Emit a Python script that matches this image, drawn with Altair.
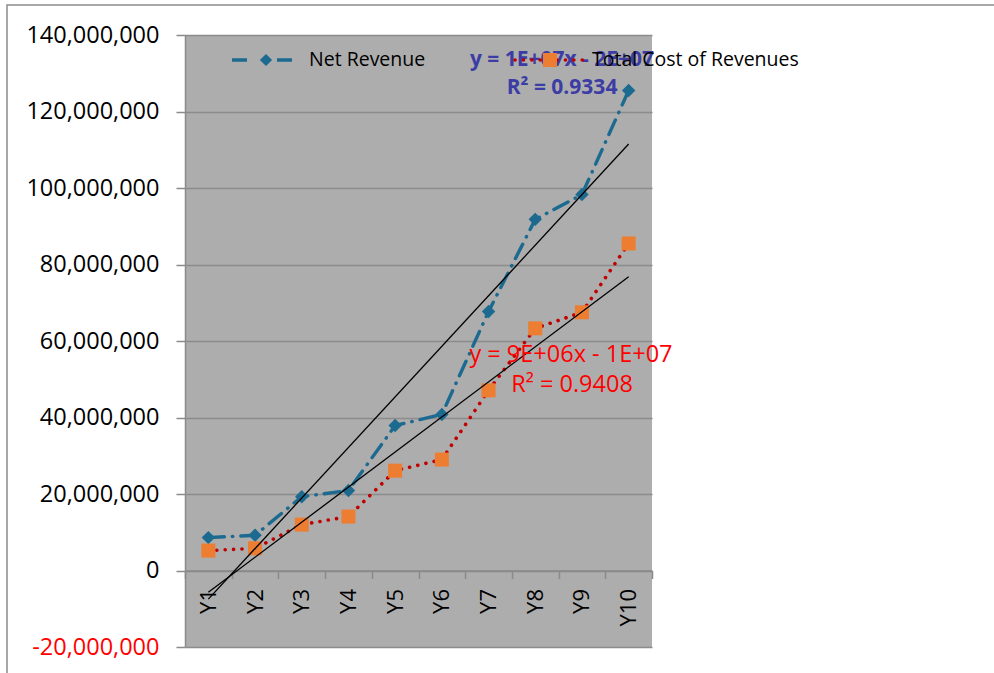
import altair as alt
import numpy as np
import pandas as pd

# ---- data ----
years = ["Y1", "Y2", "Y3", "Y4", "Y5", "Y6", "Y7", "Y8", "Y9", "Y10"]
net_revenue = [8.6e6, 9.2e6, 19.3e6, 20.9e6, 37.9e6, 40.8e6, 67.7e6, 91.8e6, 98.3e6, 125.5e6]
cost_of_revenues = [5.2e6, 5.8e6, 12.0e6, 14.1e6, 26.1e6, 29.0e6, 47.1e6, 63.3e6, 67.5e6, 85.5e6]
y_ticks = [-20e6, 0, 20e6, 40e6, 60e6, 80e6, 100e6, 120e6, 140e6]

series_names = ["Net Revenue", "Total Cost of Revenues"]
trend_text_net = ["y = 1E+07x - 2E+07", "R\u00b2 = 0.9334"]
trend_text_cost = ["y = 9E+06x - 1E+07", "R\u00b2 = 0.9408"]

FONT = "Open Sans"
BLUE = "#1c6a8f"
ORANGE = "#ed7d31"
DOTRED = "#c00000"

df_net = pd.DataFrame({"year": years, "value": net_revenue})
df_cost = pd.DataFrame({"year": years, "value": cost_of_revenues})

# linear trend lines (fit on category index 1..10)
idx = np.arange(1, len(years) + 1)
def trend(vals):
    m, b = np.polyfit(idx, np.array(vals), 1)
    return pd.DataFrame({"year": [years[0], years[-1]],
                         "value": [m * idx[0] + b, m * idx[-1] + b]})
df_tr_net = trend(net_revenue)
df_tr_cost = trend(cost_of_revenues)

one = pd.DataFrame({"k": [0]})

xenc = alt.X("year:N", sort=years, bandPosition=0.5,
             scale=alt.Scale(type="band", paddingInner=0, paddingOuter=0, domain=years),
             axis=alt.Axis(title=None, labelAngle=270, offset=-76.5, tickBand="extent",
                           tickSize=8, tickColor="#8a8a8a", tickWidth=1.5,
                           domainColor="#8a8a8a", domainWidth=1.5,
                           labelFont=FONT, labelFontSize=22, labelColor="#000000",
                           labelPadding=10, labelBaseline="middle", grid=False))
yenc = alt.Y("value:Q",
             scale=alt.Scale(domain=[-20e6, 140e6], nice=False, zero=False),
             axis=alt.Axis(title=None, values=y_ticks,
                           labelExpr="(datum.value < 0 ? '-' : '') + format(abs(datum.value), ',')",
                           labelColor={"expr": "datum.value < 0 ? '#ff0000' : '#000000'"},
                           labelFont=FONT, labelFontSize=23.5, labelPadding=17,
                           tickSize=9, tickColor="#8a8a8a", tickWidth=1.5,
                           domainColor="#8a8a8a", domainWidth=1.5,
                           grid=True, gridColor="#8c8c8c", gridWidth=1.5))

base_net = alt.Chart(df_net)
base_cost = alt.Chart(df_cost)

net_line = base_net.mark_line(color=BLUE, strokeWidth=3.4, strokeDash=[16, 8, 0.5, 8],
                              strokeCap="round").encode(x=xenc, y=yenc)
net_pts = base_net.mark_point(shape="diamond", filled=True, size=180, color=BLUE,
                              opacity=1).encode(x=xenc, y=yenc)
cost_line = base_cost.mark_line(color=DOTRED, strokeWidth=3.6, strokeDash=[0.1, 8.3],
                                strokeCap="round").encode(x=xenc, y=yenc)
cost_pts = base_cost.mark_point(shape="square", filled=True, size=196, color=ORANGE,
                                opacity=1).encode(x=xenc, y=yenc)
tr_net = alt.Chart(df_tr_net).mark_line(color="#000000", strokeWidth=1.3).encode(x=xenc, y=yenc)
tr_cost = alt.Chart(df_tr_cost).mark_line(color="#000000", strokeWidth=1.3).encode(x=xenc, y=yenc)

# outer chart border (top and left visible)
border = alt.Chart(one).mark_rect(fill=None, stroke="#8c8c8c", strokeWidth=1.5).encode(
    x=alt.value(-178), x2=alt.value(830), y=alt.value(-30), y2=alt.value(700))

def txt(s, x, y, size, color, weight="normal", align="center"):
    return alt.Chart(one).mark_text(text=s, font=FONT, fontSize=size, color=color,
                                    fontWeight=weight, align=align, baseline="middle").encode(
        x=alt.value(x), y=alt.value(y))

# trendline labels
lab_net1 = txt(trend_text_net[0], 377, 25, 21, "#3c3ca5", "bold")
lab_net2 = txt(trend_text_net[1], 377, 53, 21, "#3c3ca5", "bold")
lab_cost1 = txt(trend_text_cost[0], 386, 320, 23.5, "#ff0000")
lab_cost2 = txt(trend_text_cost[1], 387, 350, 23.5, "#ff0000")

# legend
leg_b1 = alt.Chart(one).mark_rule(color=BLUE, strokeWidth=3.5).encode(
    x=alt.value(47), x2=alt.value(62), y=alt.value(25))
leg_b2 = alt.Chart(one).mark_rule(color=BLUE, strokeWidth=3.5).encode(
    x=alt.value(92), x2=alt.value(107), y=alt.value(25))
leg_bd = alt.Chart(one).mark_point(shape="diamond", filled=True, size=150, color=BLUE,
                                   opacity=1).encode(x=alt.value(81), y=alt.value(25))
leg_bt = txt(series_names[0], 124, 25, 19.5, "#000000", align="left")
leg_r = alt.Chart(one).mark_rule(color=DOTRED, strokeWidth=3.6, strokeDash=[0.1, 8.3],
                                 strokeCap="round").encode(
    x=alt.value(330), x2=alt.value(400), y=alt.value(25))
leg_rs = alt.Chart(one).mark_point(shape="square", filled=True, size=196, color=ORANGE,
                                   opacity=1).encode(x=alt.value(365), y=alt.value(25))
leg_rt = txt(series_names[1], 407, 25, 19.5, "#000000", align="left")

chart = alt.layer(
    border, net_line, net_pts, cost_line, cost_pts, tr_net, tr_cost,
    lab_net1, lab_net2, leg_b1, leg_b2, leg_bd, leg_bt, leg_r, leg_rs, leg_rt,
    lab_cost1, lab_cost2,
).properties(
    width=467, height=612,
    autosize=alt.AutoSizeParams(type="none"),
    padding={"left": 185, "top": 35, "right": 342, "bottom": 26},
    background="#ffffff",
).configure_view(
    fill="#adadad", stroke=None
)

chart.save("out.html", embed_options={"renderer": "svg", "actions": False})
